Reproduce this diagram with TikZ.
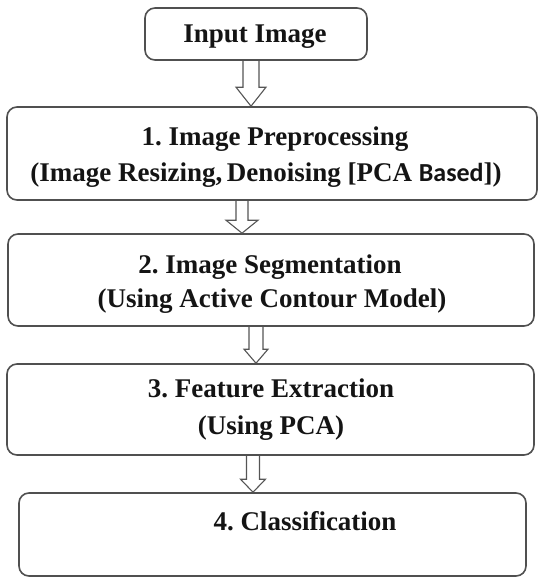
\documentclass[tikz,border=0pt]{standalone}
\usepackage{fontspec}
\setmainfont{Liberation Serif}
\newfontfamily\calibrifont{Carlito}
\usetikzlibrary{calc}
\frenchspacing
\tikzset{
  boxstyle/.style={draw=boxgray, line width=1.6pt, rounded corners=10pt, rectangle, inner sep=0pt},
  txt/.style={anchor=base, inner sep=0pt, text=textblack, font=\fontsize{27}{35}\selectfont\bfseries},
  harrow/.style n args={3}{draw=arrowgray, line width=1.1pt, line join=miter,
    to path={let \p1=(\tikztostart), \p2=(\tikztotarget) in
      (\x1-#1,\y1) -- (\x1-#1,\y2+#3) -- (\x1-#2,\y2+#3) -- (\x1,\y2) -- (\x1+#2,\y2+#3) -- (\x1+#1,\y2+#3) -- (\x1+#1,\y1)}}
}
\definecolor{boxgray}{HTML}{505050}
\definecolor{arrowgray}{HTML}{555555}
\definecolor{textblack}{HTML}{141414}
\begin{document}
\frenchspacing
\begin{tikzpicture}[x=1pt,y=-1pt]
\useasboundingbox (0,0) rectangle (539,579);
% boxes
\node[boxstyle, minimum width=222pt, minimum height=52pt] (in) at (256,34) {};
\node[boxstyle, minimum width=530pt, minimum height=93pt] (b1) at (272,153.5) {};
\node[boxstyle, minimum width=526pt, minimum height=92pt] (b2) at (271,280) {};
\node[boxstyle, minimum width=527pt, minimum height=91pt] (b3) at (270.5,409.5) {};
\node[boxstyle, minimum width=507pt, minimum height=83pt] (b4) at (272.5,534.5) {};
% texts
\node[txt] (tin) at (255,42) {Input Image};
\node[txt] (t1a) at (275,145) {1. Image Preprocessing};
\node[txt] (t1b) at (266,181) {(Image Resizing,\,Denoising [PCA {\calibrifont\fontsize{26}{35}\selectfont Based}])};
\node[txt] (t2a) at (270,273) {2. Image Segmentation};
\node[txt] (t2b) at (272,307) {(Using Active Contour Model)};
\node[txt] (t3a) at (271,397.5) {3. Feature Extraction};
\node[txt] (t3b) at (271,434) {(Using PCA)};
\node[txt] (t4) at (305,530) {4. Classification};
% connectors
\draw[harrow={8pt}{15pt}{19pt}] ([xshift=-5pt]in.south) to ([xshift=-5pt]in.south |- b1.north);
\draw[harrow={6pt}{16pt}{13pt}] ([xshift=-30pt]b1.south) to ([xshift=-30pt]b1.south |- b2.north);
\draw[harrow={7pt}{12pt}{14pt}] ([xshift=-15pt]b2.south) to ([xshift=-15pt]b2.south |- b3.north);
\draw[harrow={6.5pt}{12.5pt}{13pt}] ([xshift=-17.5pt]b3.south) to ([xshift=-17.5pt]b3.south |- b4.north);
\end{tikzpicture}
\end{document}
